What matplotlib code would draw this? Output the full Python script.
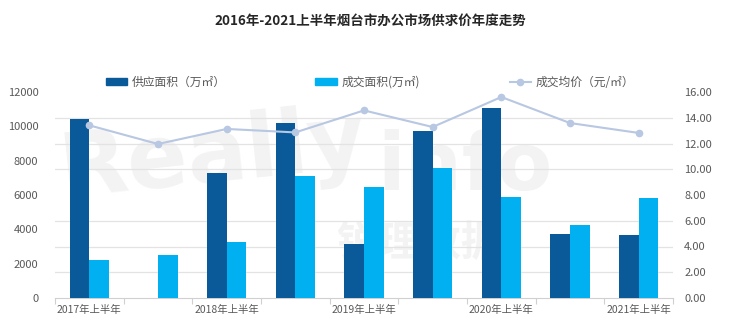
import matplotlib
matplotlib.use("Agg")
import matplotlib.pyplot as plt
from matplotlib.ticker import FixedLocator, FuncFormatter
from matplotlib.lines import Line2D
from matplotlib.patches import Patch
import numpy as np

plt.rcParams['font.family'] = ['Noto Sans CJK SC', 'DejaVu Sans']

categories = ["2017年上半年", "2017年下半年", "2018年上半年", "2018年下半年", "2019年上半年",
              "2019年下半年", "2020年上半年", "2020年下半年", "2021年上半年"]
supply = [10450, 0, 7260, 10210, 3120, 9700, 11070, 3730, 3670]
deal = [2230, 2520, 3260, 7080, 6470, 7590, 5880, 4270, 5830]
price = [13.41, 11.96, 13.13, 12.86, 14.57, 13.28, 15.61, 13.59, 12.82]

title = "2016年-2021上半年烟台市办公市场供求价年度走势"
legend_labels = ["供应面积（万㎡）", "成交面积(万㎡)", "成交均价（元/㎡）"]

c_supply = "#0A5A9A"
c_deal = "#00B0F0"
c_line = "#B8C7E2"
c_text = "#595959"

fig = plt.figure(figsize=(7.4, 3.28), dpi=100)
ax = fig.add_axes([55/740, 1-298/328, (673-55)/740, (298-92)/328])
ax2 = ax.twinx()

# faint watermark behind the plot
wm = "#F3F3F3"
fig.text(0.075, 0.40, "Really", fontsize=64, color=wm, fontweight="bold",
         rotation=6, zorder=-5, family="DejaVu Sans")
fig.text(0.51, 0.42, "info", fontsize=58, color=wm, fontweight="bold",
         zorder=-5, family="DejaVu Sans")
fig.text(0.455, 0.22, "锐理数据", fontsize=30, color=wm, fontweight="bold", zorder=-5)
ax.set_facecolor("none")
ax2.set_facecolor("none")
fig.patch.set_facecolor("white")

x = np.arange(len(categories))
w = 0.285
ax.bar(x - w/2, supply, width=w, color=c_supply, zorder=3)
ax.bar(x + w/2, deal, width=w, color=c_deal, zorder=3)

ax.set_xlim(-0.5, len(categories) - 0.5)
ax.set_ylim(0, 12000)
ax.set_yticks(np.arange(0, 12001, 2000))
ax.yaxis.set_minor_locator(FixedLocator(np.arange(0, 12001, 1500)))
ax.grid(False)
ax.grid(True, which="minor", axis="y", color="#E3E3E3", linewidth=0.9, zorder=0)
ax.tick_params(axis="y", which="both", length=0, labelsize=8, labelcolor=c_text, pad=12)

ax.set_xticks(x[::2])
ax.set_xticklabels(categories[::2])
ax.xaxis.set_minor_locator(FixedLocator(np.arange(-0.5, len(categories), 1.0)))
ax.tick_params(axis="x", which="major", length=0, labelsize=7.5, labelcolor=c_text, pad=5)
ax.tick_params(axis="x", which="minor", length=4, color="#D0D0D0", width=0.8)

for s in ["top", "left", "right"]:
    ax.spines[s].set_visible(False)
    ax2.spines[s].set_visible(False)
ax.spines["bottom"].set_color("#D0D0D0")
ax2.spines["bottom"].set_visible(False)

ax2.plot(x, price, color=c_line, linewidth=1.5, marker="o", markersize=4.5, zorder=5)
ax2.set_ylim(0, 16)
ax2.set_yticks(np.arange(0, 16.01, 2))
ax2.yaxis.set_major_formatter(FuncFormatter(lambda v, p: f"{v:.2f}"))
ax2.tick_params(axis="y", length=0, labelsize=8, labelcolor=c_text, pad=8)

fig.text(0.5, 0.935, title, ha="center", va="center", fontsize=9.7, fontweight="bold", color="#262626")

handles = [Patch(color=c_supply), Patch(color=c_deal),
           Line2D([0], [0], color=c_line, linewidth=1.5, marker="o", markersize=4.5)]
fig.legend(handles, legend_labels, ncol=3, loc="center left", bbox_to_anchor=(95/740, 1-82/328),
           frameon=False, fontsize=8.5, labelcolor=c_text, columnspacing=7.6,
           handlelength=1.8, handletextpad=0.4, handleheight=0.6)

fig.savefig("out.png", dpi=100)
